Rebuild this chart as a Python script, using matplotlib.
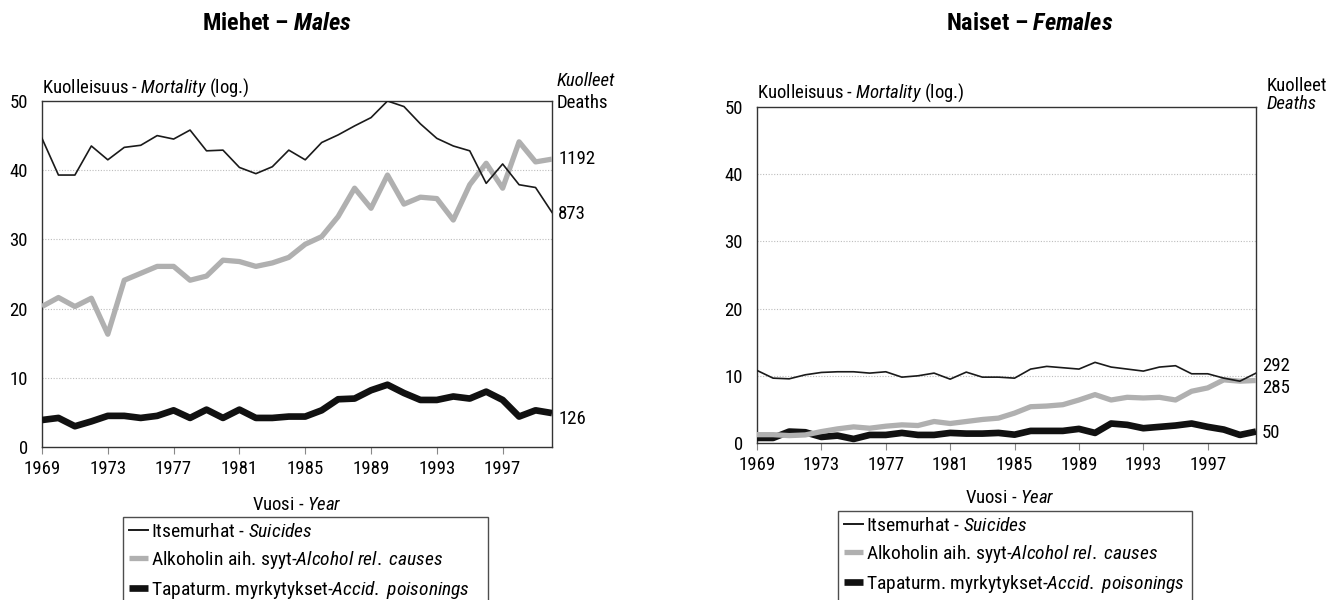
import matplotlib
matplotlib.use("Agg")
import matplotlib.pyplot as plt
from matplotlib.lines import Line2D
import matplotlib.transforms as mtransforms
from matplotlib import font_manager

# ---------------- data ----------------
years = list(range(1969, 2001))
tick_years = [1969, 1973, 1977, 1981, 1985, 1989, 1993, 1997]
y_ticks = [0, 10, 20, 30, 40, 50]

male_suicides = [44.6, 39.3, 39.3, 43.5, 41.5, 43.3, 43.6, 45.0, 44.5, 45.8, 42.8, 42.9,
                 40.4, 39.5, 40.5, 42.9, 41.5, 44.0, 45.1, 46.4, 47.6, 50.0, 49.2, 46.7,
                 44.6, 43.5, 42.8, 38.1, 40.9, 37.9, 37.5, 33.9]
male_alcohol = [20.3, 21.6, 20.3, 21.5, 16.3, 24.1, 25.1, 26.1, 26.1, 24.1, 24.7, 27.0,
                26.8, 26.1, 26.6, 27.4, 29.3, 30.4, 33.3, 37.4, 34.5, 39.3, 35.1, 36.1,
                35.9, 32.8, 37.9, 41.0, 37.4, 44.1, 41.2, 41.6]
male_accid = [3.9, 4.2, 3.0, 3.7, 4.5, 4.5, 4.2, 4.5, 5.3, 4.2, 5.4, 4.2,
              5.4, 4.2, 4.2, 4.4, 4.4, 5.3, 6.9, 7.0, 8.2, 9.0, 7.8, 6.8,
              6.8, 7.3, 7.0, 8.0, 6.8, 4.4, 5.3, 4.9]

female_suicides = [10.8, 9.65, 9.55, 10.15, 10.5, 10.6, 10.6, 10.4, 10.6, 9.8, 10.0, 10.4,
                   9.5, 10.55, 9.8, 9.8, 9.65, 11.0, 11.4, 11.2, 11.0, 12.0, 11.3, 11.0,
                   10.7, 11.3, 11.5, 10.3, 10.3, 9.65, 9.2, 10.4]
female_alcohol = [1.24, 1.24, 1.1, 1.2, 1.7, 2.1, 2.4, 2.2, 2.5, 2.7, 2.6, 3.2,
                  2.9, 3.2, 3.5, 3.7, 4.45, 5.4, 5.5, 5.7, 6.4, 7.2, 6.4, 6.8,
                  6.7, 6.8, 6.4, 7.7, 8.2, 9.4, 9.2, 9.3]
female_accid = [0.75, 0.75, 1.7, 1.6, 0.9, 1.1, 0.6, 1.2, 1.2, 1.5, 1.2, 1.2,
                1.5, 1.4, 1.4, 1.5, 1.24, 1.8, 1.8, 1.8, 2.1, 1.5, 2.9, 2.7,
                2.2, 2.4, 2.6, 2.9, 2.4, 2.0, 1.2, 1.7]

male_death_labels = ['1192', '873', '126']
male_death_label_y = [41.6, 33.7, 4.0]
female_death_labels = ['292', '285', '50']
female_death_label_y = [11.4, 8.2, 1.5]

series_labels = [r'Itsemurhat - $\mathit{Suicides}$',
                 r'Alkoholin aih. syyt-$\mathit{Alcohol\ rel.\ causes}$',
                 r'Tapaturm. myrkytykset-$\mathit{Accid.\ poisonings}$']

# ---------------- fonts ----------------
available = {f.name for f in font_manager.fontManager.ttflist}
FONT = 'DejaVu Sans'
for cand in ['Liberation Sans Narrow', 'Roboto Condensed', 'Liberation Sans', 'Roboto']:
    if cand in available:
        FONT = cand
        break
plt.rcParams['font.family'] = [FONT, 'DejaVu Sans']
plt.rcParams['mathtext.fontset'] = 'custom'
plt.rcParams['mathtext.rm'] = FONT
plt.rcParams['mathtext.it'] = FONT + ':italic'
plt.rcParams['mathtext.bf'] = FONT + ':bold'
plt.rcParams['mathtext.bfit'] = FONT + ':italic:bold'

# ---------------- figure ----------------
W, H = 1329, 600
fig = plt.figure(figsize=(W / 100, H / 100), dpi=100)
fig.patch.set_facecolor('white')


def fx(px):
    return px / W


def fy(py):
    return 1 - py / H


FS = 13.5
LFS = 14

styles = {
    'suic': dict(color='#1a1a1a', lw=1.2, zorder=5),
    'alc': dict(color='#b0b0b0', lw=3.8, zorder=4, solid_capstyle='butt'),
    'acc': dict(color='#111111', lw=4.8, zorder=3, solid_capstyle='butt'),
}


def make_panel(rect, suic, alc, acc):
    ax = fig.add_axes(rect)
    ax.plot(years, acc, **styles['acc'])
    ax.plot(years, alc, **styles['alc'])
    ax.plot(years, suic, **styles['suic'])
    ax.set_xlim(1969, 2000)
    ax.set_ylim(0, 50)
    ax.set_xticks(tick_years)
    ax.set_xticklabels([str(t) for t in tick_years], fontsize=FS)
    ax.set_yticks(y_ticks)
    ax.set_yticklabels([str(t) for t in y_ticks], fontsize=FS)
    ax.tick_params(axis='x', direction='out', length=5, width=0.8, color='#888888', pad=4)
    ax.tick_params(axis='y', length=0, pad=10)
    for v in [10, 20, 30, 40]:
        ax.axhline(v, color='#bdbdbd', lw=0.8, ls=(0, (1, 1.5)), zorder=1)
    for s in ax.spines.values():
        s.set_color('#333333')
        s.set_linewidth(1.0)
    return ax


axL = make_panel([fx(42), fy(447), fx(552) - fx(42), fy(101) - fy(447)],
                 male_suicides, male_alcohol, male_accid)
axR = make_panel([fx(757), fy(443), fx(1256) - fx(757), fy(107) - fy(443)],
                 female_suicides, female_alcohol, female_accid)

# death labels at the right side
for ax, labels, ys in [(axL, male_death_labels, male_death_label_y),
                       (axR, female_death_labels, female_death_label_y)]:
    tr = mtransforms.blended_transform_factory(ax.transAxes, ax.transData)
    for lab, yv in zip(labels, ys):
        ax.text(1.012, yv, lab, transform=tr, fontsize=FS, va='center', ha='left')

# titles
fig.text(fx(277), fy(24), r'Miehet – $\mathbfit{Males}$', fontsize=17.5, fontweight='bold',
         ha='center', va='center')
fig.text(fx(1030), fy(24), r'Naiset – $\mathbfit{Females}$', fontsize=17.5, fontweight='bold',
         ha='center', va='center')

# y-axis header texts
fig.text(fx(42), fy(88), r'Kuolleisuus - $\mathit{Mortality}$ (log.)', fontsize=FS, ha='left', va='center')
fig.text(fx(757), fy(93), r'Kuolleisuus - $\mathit{Mortality}$ (log.)', fontsize=FS, ha='left', va='center')

fig.text(fx(557), fy(81), 'Kuolleet', fontsize=FS, style='italic', ha='left', va='center')
fig.text(fx(557), fy(103), 'Deaths', fontsize=FS, ha='left', va='center')
fig.text(fx(1267), fy(86), 'Kuolleet', fontsize=FS, ha='left', va='center')
fig.text(fx(1267), fy(104), 'Deaths', fontsize=FS, style='italic', ha='left', va='center')

# x labels
fig.text(fx(297), fy(505), r'Vuosi - $\mathit{Year}$', fontsize=FS, ha='center', va='center')
fig.text(fx(1010), fy(498), r'Vuosi - $\mathit{Year}$', fontsize=FS, ha='center', va='center')

# legends
handles = [Line2D([], [], color=styles['suic']['color'], lw=1.4),
           Line2D([], [], color=styles['alc']['color'], lw=3.8, solid_capstyle='butt'),
           Line2D([], [], color=styles['acc']['color'], lw=4.8, solid_capstyle='butt')]

for (x0, x1, y0, y1) in [(123, 488, 517, 604), (838, 1192, 511, 595)]:
    leg = fig.legend(handles, series_labels, loc='upper left',
                     bbox_to_anchor=(fx(x0), fy(y1), fx(x1) - fx(x0), fy(y0) - fy(y1)),
                     mode='expand', fontsize=LFS, frameon=True, fancybox=False,
                     handlelength=1.0, handletextpad=0.15, borderpad=0.3,
                     labelspacing=0.42, borderaxespad=0.0)
    leg.get_frame().set_edgecolor('#222222')
    leg.get_frame().set_linewidth(1.0)

fig.savefig('out.png', dpi=100, facecolor='white')
